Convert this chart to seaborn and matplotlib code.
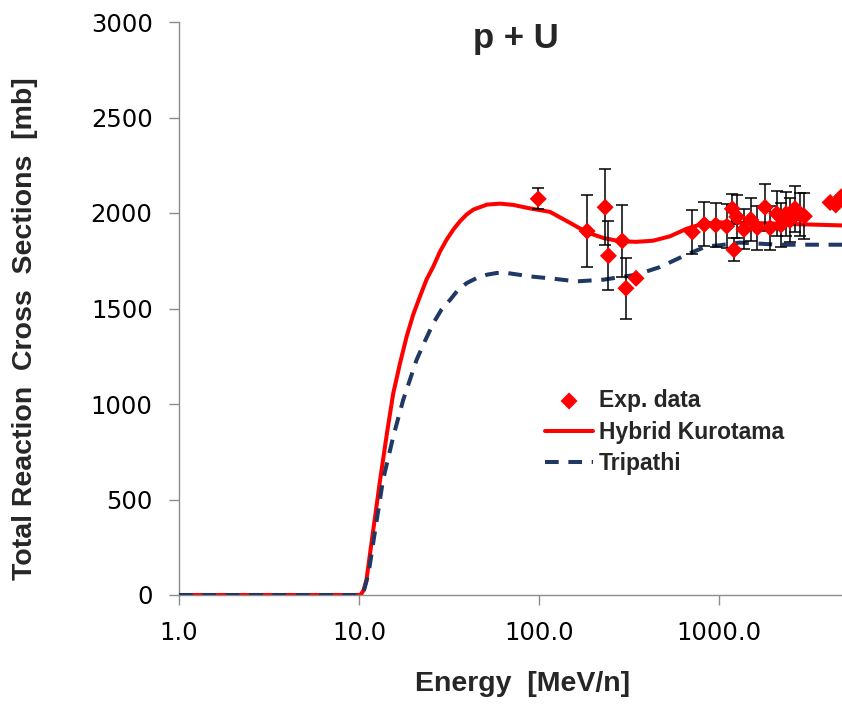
import numpy as np
import matplotlib
matplotlib.use("Agg")
import matplotlib.pyplot as plt
import seaborn as sns
from matplotlib.font_manager import FontProperties
from matplotlib.ticker import FixedLocator, FixedFormatter, NullLocator

# Hybrid Kurotama model: energy [MeV/n] and cross section [mb]
kurotama_energy = [1.0, 10.2, 10.6, 11.0, 12.0, 13.1, 14.3, 15.5, 16.2, 16.9, 18.4, 20.0,
                   21.8, 23.7, 25.9, 28.2, 30.7, 33.4, 36.4, 39.6, 43.2, 51.4, 60.9, 72.3,
                   85.8, 97.0, 115.0, 149.0, 184.0, 228.0, 281.0, 348.0, 430.0, 534.0,
                   659.0, 815.0, 1008.0, 2000.0, 4820.0]
kurotama_xs = [0, 0, 25, 79, 341, 603, 848, 1057, 1136, 1214, 1354, 1468,
               1563, 1651, 1721, 1799, 1861, 1913, 1957, 1992, 2018, 2044, 2049, 2042,
               2027, 2018, 2006, 1948, 1899, 1869, 1852, 1849, 1855, 1878,
               1917, 1944, 1951, 1945, 1935]

# Tripathi systematics
tripathi_energy = [1.0, 10.2, 10.7, 11.3, 12.3, 13.6, 15.5, 17.6, 20.9, 23.2, 25.9, 28.7,
                   32.1, 35.6, 39.8, 45.2, 51.4, 58.3, 66.4, 89.3, 120.0, 162.0, 228.0,
                   348.0, 470.0, 659.0, 850.0, 1008.0, 1300.0, 2158.0, 4820.0]
tripathi_xs = [0, 0, 30, 114, 341, 603, 830, 1022, 1232, 1328, 1424, 1494,
               1546, 1599, 1634, 1660, 1677, 1686, 1686, 1668, 1656, 1642, 1651,
               1677, 1717, 1782, 1825, 1831, 1845, 1834, 1834]

# Measured p + U reaction cross sections with uncertainties
exp_energy = [99, 185, 233, 243, 290, 304, 346, 711, 829, 959, 1104, 1185, 1211, 1254,
              1376, 1500, 1633, 1801, 1920, 2093, 2209, 2355, 2479, 2643, 2820, 2980,
              4140, 4450, 4780]
exp_xs = [2074, 1905, 2030, 1776, 1854, 1606, 1658, 1900, 1940, 1937, 1931, 2022, 1807,
          1980, 1914, 1966, 1923, 2030, 1923, 1996, 1937, 1996, 1961, 2023, 1992, 1983,
          2055, 2042, 2085]
exp_err = [55, 190, 200, 180, 190, 160, 0, 115, 115, 115, 115, 80, 60, 112,
           105, 113, 115, 122, 115, 119, 115, 115, 115, 120, 115, 120,
           0, 0, 0]

y_ticks = [0, 500, 1000, 1500, 2000, 2500, 3000]
x_ticks = [1.0, 10.0, 100.0, 1000.0]
x_tick_labels = ["1.0", "10.0", "100.0", "1000.0"]

sns.set_style("ticks")
plt.rcParams["font.family"] = ["DejaVu Sans"]

W, H = 842, 704
fig = plt.figure(figsize=(W / 100, H / 100), dpi=100)
ax = fig.add_axes([179 / W, 1 - 595 / H, 1 - 179 / W, (595 - 22) / H])
ax.set_xscale("log")

sns.lineplot(x=kurotama_energy, y=kurotama_xs, ax=ax, color="#FF0000",
             linewidth=2.9, label="Hybrid Kurotama", zorder=2)
sns.lineplot(x=tripathi_energy, y=tripathi_xs, ax=ax, color="#1F3864",
             linewidth=2.9, linestyle=(0, (3.4, 2.4)), label="Tripathi", zorder=3)

e = np.array(exp_energy, dtype=float)
v = np.array(exp_xs, dtype=float)
err = np.array(exp_err, dtype=float)
has_err = err > 0
ax.errorbar(e[has_err], v[has_err], yerr=err[has_err], fmt="none", ecolor="black",
            elinewidth=1.1, capsize=4, capthick=1.1, zorder=4)
sns.scatterplot(x=exp_energy, y=exp_xs, ax=ax, marker="D", s=75, color="#FF0000",
                edgecolor="none", linewidth=0, label="Exp. data", zorder=5)

ax.set_xlim(1.0, 4820)
ax.set_ylim(0, 3000)
ax.xaxis.set_major_locator(FixedLocator(x_ticks))
ax.xaxis.set_major_formatter(FixedFormatter(x_tick_labels))
ax.xaxis.set_minor_locator(NullLocator())
ax.yaxis.set_major_locator(FixedLocator(y_ticks))

spine_color = "#8C8C8C"
for side in ["top", "right"]:
    ax.spines[side].set_visible(False)
for side in ["left", "bottom"]:
    ax.spines[side].set_color(spine_color)
    ax.spines[side].set_linewidth(1.0)
ax.tick_params(axis="both", colors=spine_color, length=7, width=1.0,
               labelcolor="black", labelsize=17.5)
ax.tick_params(axis="y", pad=12)
ax.tick_params(axis="x", pad=12)

label_font = FontProperties(family="Liberation Sans", weight="bold", size=20.5)
ax.set_xlabel("Energy  [MeV/n]", fontproperties=label_font)
ax.set_ylabel("Total Reaction  Cross  Sections  [mb]", fontproperties=label_font)
ax.xaxis.set_label_coords((523 - 179) / 663, (595 - 671) / 573)
ax.yaxis.set_label_coords((38 - 179) / 663, (595 - 329) / 573)

fig.text(516 / W, 1 - 48 / H, "p + U", ha="center", va="baseline",
         fontproperties=FontProperties(family="Liberation Sans", weight="bold", size=25))

handles, labels = ax.get_legend_handles_labels()
order = [labels.index(n) for n in ["Exp. data", "Hybrid Kurotama", "Tripathi"]]
ax.legend([handles[i] for i in order], [labels[i] for i in order],
          loc="upper left", bbox_to_anchor=((545 - 179) / 663, (595 - 389) / 573),
          frameon=False, prop=FontProperties(family="Liberation Sans", weight="bold", size=16.5),
          handlelength=2.1, handletextpad=0.25, labelspacing=0.38,
          borderpad=0, borderaxespad=0)

fig.savefig("out.png", dpi=100, facecolor="white")
